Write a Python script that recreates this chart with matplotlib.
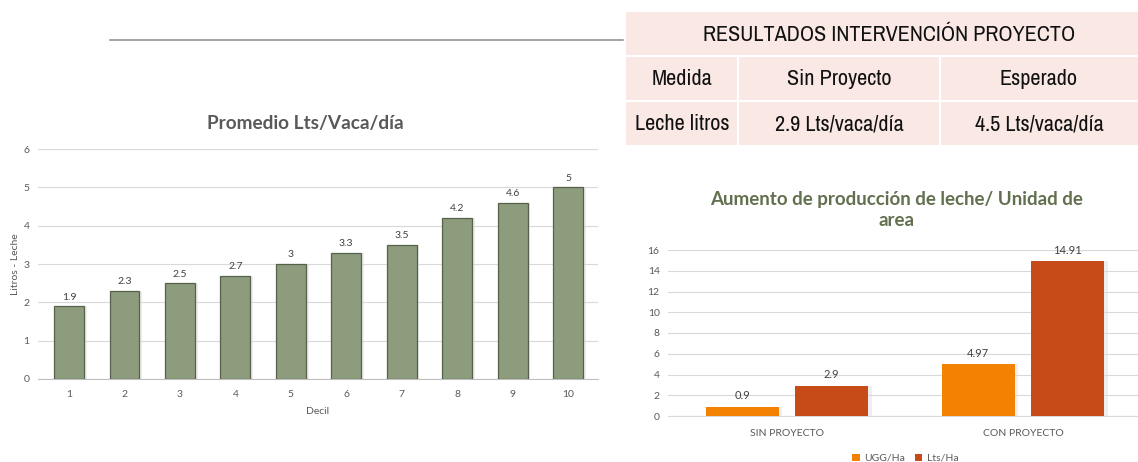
import matplotlib.pyplot as plt
from matplotlib.patches import Rectangle
from matplotlib import font_manager

plt.rcParams['font.family'] = ['Lato', 'DejaVu Sans']

# left chart data
deciles = [1, 2, 3, 4, 5, 6, 7, 8, 9, 10]
litros = [1.9, 2.3, 2.5, 2.7, 3, 3.3, 3.5, 4.2, 4.6, 5]

# right chart data
grupos = ['SIN PROYECTO', 'CON PROYECTO']
ugg_ha = [0.9, 4.97]
lts_ha = [2.9, 14.91]

# table text
tabla_titulo = 'RESULTADOS INTERVENCIÓN PROYECTO'
tabla_cabecera = ['Medida', 'Sin Proyecto', 'Esperado']
tabla_fila = ['Leche litros', '2.9 Lts/vaca/día', '4.5 Lts/vaca/día']

W, H = 1138, 462
fig = plt.figure(figsize=(W / 100, H / 100), dpi=100)

def px_axes(x0, y0, x1, y1):
    # pixel box (top-left origin) -> figure axes
    return fig.add_axes([x0 / W, 1 - y1 / H, (x1 - x0) / W, (y1 - y0) / H])

grid_c = '#d9d9d9'
tick_c = '#595959'

# narrow font for the table if there is one
narrow = None
for f in font_manager.fontManager.ttflist:
    if 'Narrow' in f.name or 'Condensed' in f.name:
        if 'Liberation' in f.name or 'DejaVu' in f.name or narrow is None:
            narrow = f.name
if narrow:
    tfont, tsize = [narrow, 'DejaVu Sans'], 16
else:
    tfont, tsize = ['Liberation Sans', 'DejaVu Sans'], 13

# overlay axes in pixel units for title, line and table
top = px_axes(0, 0, W, H)
top.set_xlim(0, W)
top.set_ylim(H, 0)
top.axis('off')
top.plot([110, 623], [39.5, 39.5], color='#8c8c8c', lw=1.1)

# ---- left chart ----
ax1 = px_axes(38, 149, 598, 379)
ax1.bar([d + 0.05 for d in deciles], litros, width=0.54, color='#dcdcdc', alpha=0.5, zorder=2)
bars = ax1.bar(deciles, litros, width=0.54, color='#8c9c7d', edgecolor='#56614c', lw=0.9, zorder=3)
for b, v in zip(bars, litros):
    ax1.text(b.get_x() + b.get_width() / 2, v + 0.12, f'{v:g}', ha='center', va='bottom',
             fontsize=7.5, color='#404040')
ax1.set_xlim(0.44, 10.54)
ax1.set_ylim(0, 6)
ax1.set_yticks(range(0, 7))
ax1.set_xticks(deciles)
ax1.grid(axis='y', color=grid_c, lw=0.8, zorder=0)
for s in ['top', 'right', 'left']:
    ax1.spines[s].set_visible(False)
ax1.spines['bottom'].set_color('#bfbfbf')
ax1.tick_params(length=0, labelsize=7.5, labelcolor=tick_c, pad=8)
ax1.tick_params(axis='y', pad=6)
ax1.set_xlabel('Decil', fontsize=7.5, color=tick_c, labelpad=6)
ax1.set_ylabel('Litros - Leche', fontsize=7.5, color=tick_c)
ax1.yaxis.set_label_coords(-0.032, 0.5)
top.text(305, 123, 'Promedio Lts/Vaca/día', ha='center', va='center', fontsize=13.7,
         fontweight='bold', color='#595959')

# ---- table ----
rosa = '#f9e8e3'
top.add_patch(Rectangle((626, 12), 512, 133, color=rosa, lw=0))
top.plot([626, 1138], [56, 56], color='white', lw=1.6)
top.plot([626, 1138], [101, 101], color='white', lw=1.6)
top.plot([738, 738], [56, 145], color='white', lw=1.6)
top.plot([940, 940], [56, 145], color='white', lw=1.6)
top.text(889, 35, tabla_titulo, ha='center', va='center', fontsize=tsize, family=tfont, color='#111111')
cx = [682, 839, 1039]
for x, t in zip(cx, tabla_cabecera):
    top.text(x, 79, t, ha='center', va='center', fontsize=tsize, family=tfont, color='#111111')
for x, t in zip(cx, tabla_fila):
    top.text(x, 124, t, ha='center', va='center', fontsize=tsize, family=tfont, color='#111111')

# ---- right chart ----
ax2 = px_axes(668, 250, 1138, 416)
xs = [0, 1]
off = 0.19
bw = 0.31
ax2.bar([x - off + 0.015 for x in xs], ugg_ha, width=bw, color='#dcdcdc', alpha=0.45, zorder=2)
ax2.bar([x + off + 0.015 for x in xs], lts_ha, width=bw, color='#dcdcdc', alpha=0.45, zorder=2)
b1 = ax2.bar([x - off for x in xs], ugg_ha, width=bw, color='#f38102', label='UGG/Ha', zorder=3)
b2 = ax2.bar([x + off for x in xs], lts_ha, width=bw, color='#c64b18', label='Lts/Ha', zorder=3)
for bb, vals in [(b1, ugg_ha), (b2, lts_ha)]:
    for b, v in zip(bb, vals):
        ax2.text(b.get_x() + b.get_width() / 2, v + 0.55, f'{v:g}', ha='center', va='bottom',
                 fontsize=8, color='#404040')
ax2.set_xlim(-0.504, 1.487)
ax2.set_ylim(0, 16)
ax2.set_yticks(range(0, 17, 2))
ax2.set_xticks(xs)
ax2.set_xticklabels(grupos)
ax2.grid(axis='y', color=grid_c, lw=0.8, zorder=0)
for s in ['top', 'right', 'left']:
    ax2.spines[s].set_visible(False)
ax2.spines['bottom'].set_color('#d9d9d9')
ax2.tick_params(length=0, labelsize=7.5, labelcolor=tick_c, pad=9)
ax2.tick_params(axis='y', pad=6)
top.text(897, 210, 'Aumento de producción de leche/ Unidad de\narea', ha='center', va='center',
         fontsize=13.5, fontweight='bold', color='#62704f', linespacing=1.3)
ax2.legend(loc='upper center', bbox_to_anchor=(0.505, -0.17), ncol=2, frameon=False,
           fontsize=7.5, labelcolor=tick_c, handlelength=0.7, handleheight=0.7,
           handletextpad=0.4, columnspacing=1.0)

fig.savefig('out.png', dpi=100)
